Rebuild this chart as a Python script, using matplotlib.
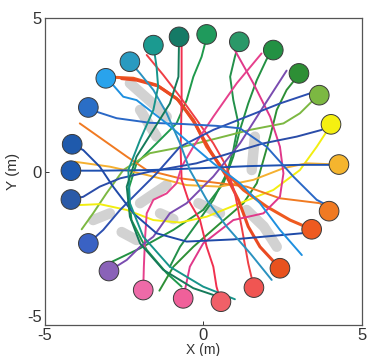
import numpy as np
import matplotlib
matplotlib.use('Agg')
import matplotlib.pyplot as plt

plt.rcParams['font.family'] = ['Liberation Sans', 'DejaVu Sans']

# Start positions of the 24 agents on the ring [m].
start_x = [0.10, 1.13, 2.20, 3.01, 3.65, 4.02, 4.27, 3.96, 3.41, 2.41, 1.59, 0.55,
           -0.64, -1.90, -2.98, -3.63, -4.18, -4.18, -4.14, -3.63, -3.08, -2.32, -1.58, -0.77]
start_y = [4.47, 4.23, 3.96, 3.20, 2.49, 1.54, 0.23, -1.29, -1.88, -3.15, -3.78, -4.24,
           -4.13, -3.86, -3.24, -2.34, -0.91, 0.03, 0.89, 2.09, 3.04, 3.58, 4.12, 4.39]

agent_colors = ['#1f9a5c', '#2a9868', '#239143', '#2d8f35', '#7cb842', '#f5f011',
                '#f5b52e', '#f07a22', '#ee5a20', '#e8521e', '#f05552', '#f06068',
                '#f0609a', '#ee6aa8', '#8a62b8', '#3a62c4', '#2a5aa8', '#1e5ab0',
                '#1f5aac', '#2a6ec6', '#29a3ec', '#2a9ac0', '#1b9a90', '#157a66']
line_colors = ['#1f9a4c', '#23904a', '#239143', '#2d8f35', '#7cb842', '#f2ee10',
               '#f5b030', '#f07a22', '#ee5a20', '#ea4a22', '#ef3f45', '#f0304f',
               '#e0388a', '#e6408c', '#7a4cb0', '#2c4fb0', '#2a4ca8', '#1e50b0',
               '#1f4aa8', '#2a68c6', '#1e90e0', '#2a92c0', '#17948a', '#157a5a']

# Trajectory waypoints after the start point [m].
traj_x = [
    [0.05, -0.06, -0.32, -0.53, -0.85, -1.48, -2.11, -2.37, -2.27, -1.79, -1.16, -0.69],
    [0.99, 0.84, 0.94, 1.10, 0.94, 0.73, 0.31, -0.21, -0.74, -1.06],
    [1.99, 1.68, 1.41, 1.15, 0.94, 0.63, -0.01, -0.95, -2.00, -2.95],
    [2.83, 2.62, 2.31, 2.10, 1.89, 1.68, 1.26, 0.52, -0.32, -0.95, -1.39],
    [3.46, 3.04, 2.52, 1.47, 0.41, -0.64, -1.69, -2.53, -3.06, -3.48, -3.84],
    [3.88, 3.57, 3.04, 2.20, 1.15, 0.10, -0.74, -1.58, -2.42, -3.27, -3.90],
    [3.25, 2.52, 1.57, 0.52, -0.53, -1.79, -2.95, -4.05],
    [3.67, 2.41, 1.36, 0.52, -0.74, -1.79, -2.42, -3.90],
    [2.73, 1.99, 1.26, 0.63, 0.10, -0.32, -0.85, -1.48, -2.21, -2.74],
    [1.78, 1.41, 1.10, 0.73, 0.20, -0.27, -0.79, -1.43, -2.11, -2.58],
    [1.41, 1.20, 0.99, 0.73, 0.31, -0.21, -0.74, -1.27, -1.79],
    [0.41, 0.31, 0.10, -0.11, -0.48, -0.69, -0.72, -0.69, -0.69],
    [-0.43, -0.01, 0.94, 1.89, 2.41, 2.52, 2.41, 2.10, 1.57, 0.84],
    [-1.88, -1.84, -1.79, -1.58, -1.16, -0.85, -0.69, -0.32, 0.31, 1.05, 1.83],
    [-2.42, -2.00, -1.58, -1.06, -0.53, 0.31, 1.15, 1.89, 2.62],
    [-3.16, -2.63, -2.11, -1.48, -0.74, 0.31, 1.36, 2.41, 3.36],
    [-3.79, -3.27, -2.63, -1.69, -0.22, 0.84, 1.89, 2.94, 3.73],
    [-3.27, -1.69, -0.11, 1.47, 3.04, 3.99],
    [-3.79, -3.27, -2.85, -2.21, -1.48, -0.53, 0.94, 3.10],
    [-3.37, -2.74, -1.69, -0.64, 0.41, 1.15, 1.99, 2.83, 3.57, 3.94],
    [-2.85, -2.53, -2.11, -1.16, -0.43, 0.31, 1.15, 1.78, 2.41, 3.10],
    [-2.00, -1.58, -1.16, -0.74, -0.43, 0.10, 0.73, 1.47, 2.15],
    [-1.48, -1.43, -1.58, -2.00, -2.37, -2.32, -1.90, -1.06, -0.01, 0.99],
    [-0.79, -1.06, -1.58, -2.11, -2.42, -2.32, -2.00, -1.27, -0.32, 0.31],
]
traj_y = [
    [4.18, 3.74, 3.09, 2.33, 1.57, 0.92, 0.27, -0.60, -1.58, -2.55, -3.31, -3.75],
    [3.74, 3.09, 2.33, 1.57, 0.70, -0.06, -0.92, -1.69, -2.45, -3.10],
    [3.66, 2.98, 2.22, 1.36, 0.49, -0.38, -1.25, -1.90, -2.50, -2.97],
    [2.93, 2.66, 2.01, 1.14, 0.38, -0.38, -1.03, -1.69, -2.45, -3.10, -3.88],
    [2.33, 1.90, 1.57, 1.36, 1.08, 0.81, 0.60, 0.05, -0.71, -1.36, -1.88],
    [1.30, 0.81, 0.05, -0.60, -1.03, -1.47, -1.66, -1.58, -1.25, -1.06, -1.09],
    [0.27, 0.11, -0.27, -0.49, -0.44, -0.11, 0.16, 0.32],
    [-1.03, -0.87, -0.49, -0.38, -0.22, 0.05, 0.49, 1.57],
    [-1.58, -1.14, -0.60, 0.05, 0.81, 1.68, 2.39, 2.82, 3.04, 3.07],
    [-2.45, -1.79, -0.92, -0.16, 0.70, 1.57, 2.33, 2.79, 2.98, 3.03],
    [-2.99, -1.79, -0.71, 0.16, 0.92, 1.68, 2.44, 3.15, 3.80],
    [-3.75, -3.10, -2.45, -1.58, -0.92, -0.27, 0.70, 2.33, 4.07],
    [-3.10, -2.34, -1.58, -1.36, -0.82, -0.06, 0.81, 1.79, 2.88, 4.23],
    [-3.10, -2.12, -1.36, -0.92, -0.71, -0.38, 0.16, 0.81, 1.79, 2.88, 3.85],
    [-2.88, -2.45, -2.12, -1.36, -1.03, -0.16, 0.92, 2.12, 3.29],
    [-1.90, -1.25, -0.71, -0.06, 0.81, 1.36, 1.79, 2.22, 2.55],
    [-0.82, -0.49, -0.22, 0.00, 0.27, 0.60, 0.92, 1.14, 1.36],
    [0.03, 0.05, 0.11, 0.18, 0.22, 0.22],
    [0.70, 0.16, -0.49, -1.36, -2.01, -2.28, -2.21, -2.01],
    [1.95, 1.74, 1.59, 1.55, 1.49, 1.41, 0.81, -0.16, -0.92, -1.12],
    [2.82, 2.44, 2.33, 1.57, 0.92, 0.27, -0.38, -1.03, -1.90, -2.72],
    [3.20, 2.66, 1.90, 0.92, 0.05, -0.92, -1.79, -2.66, -3.53],
    [3.42, 2.77, 2.01, 1.03, 0.05, -1.03, -2.12, -3.10, -3.75, -4.16],
    [3.09, 2.22, 1.36, 0.49, -0.49, -1.47, -2.34, -3.20, -3.80, -4.02],
]

# Grey shaded patches in the background.
gray_x = [[-2.32, -1.48, -1.16], [-2.00, -1.48], [1.62, 1.52], [1.36, 1.90, 2.31],
          [-3.48, -2.95], [-2.58, -2.11], [-2.00, -1.16], [-0.16, 0.52], [-1.37, -0.95]]
gray_y = [[2.88, 2.11, 1.79], [2.01, 1.14], [1.14, 0.05], [-1.25, -1.79, -2.45],
          [-1.58, -1.36], [-1.97, -2.23], [-1.03, -0.44], [-1.03, -1.36], [-1.36, -1.55]]

fig = plt.figure(figsize=(3.71, 3.56), dpi=100)
ax = fig.add_axes([0.121, 0.087, 0.855, 0.862])
ax.set_xlim(-5, 5)
ax.set_ylim(-5, 5)

for gx, gy in zip(gray_x, gray_y):
    ax.plot(gx, gy, color='#d2d2d2', linewidth=7.5, solid_capstyle='round', zorder=1)

for i in range(len(start_x)):
    xs = [start_x[i]] + traj_x[i]
    ys = [start_y[i]] + traj_y[i]
    lw = 2.2 if i in (8, 9) else 1.4
    ax.plot(xs, ys, color=line_colors[i], linewidth=lw, solid_capstyle='round', zorder=2)

ax.scatter(start_x, start_y, s=200, c=agent_colors, edgecolors='#3a3a3a',
           linewidths=0.7, zorder=5)

ax.set_xticks([-5, 0, 5])
ax.set_yticks([-5, 0, 5])
ax.set_xticklabels(['-5', '0', '5'], fontsize=12)
ax.set_yticklabels(['-5', '0', '5'], fontsize=12)
ax.get_yticklabels()[0].set_va('bottom')
ax.tick_params(direction='in', length=3, width=0.7, pad=2, colors='#333333')
ax.set_xlabel('X (m)', fontsize=10, color='#333333')
ax.xaxis.set_label_coords(0.5, -0.058)
ax.set_ylabel('Y (m)', fontsize=11, color='#333333')
ax.yaxis.set_label_coords(-0.078, 0.5)
for sp in ax.spines.values():
    sp.set_color('#555555')
    sp.set_linewidth(0.9)

fig.savefig('out.png', dpi=100)
